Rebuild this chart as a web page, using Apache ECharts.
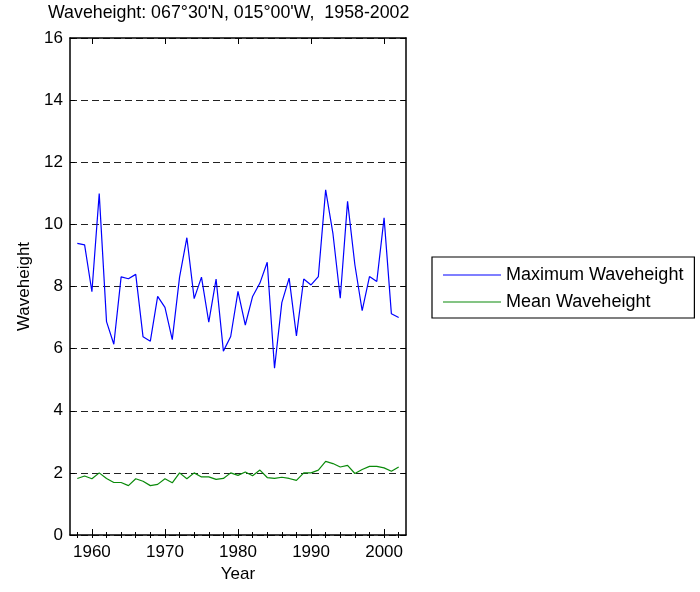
<!DOCTYPE html>
<html>
<head>
<meta charset="utf-8">
<script src="https://cdn.jsdelivr.net/npm/echarts@6/dist/echarts.min.js"></script>
<style>
  html, body { margin: 0; padding: 0; background: #fff; }
  #chart { width: 700px; height: 592px; }
</style>
</head>
<body>
<div id="chart"></div>
<script>
// Annual wave heights at 067°30'N, 015°00'W
const years = [1958, 1959, 1960, 1961, 1962, 1963, 1964, 1965, 1966, 1967,
  1968, 1969, 1970, 1971, 1972, 1973, 1974, 1975, 1976, 1977,
  1978, 1979, 1980, 1981, 1982, 1983, 1984, 1985, 1986, 1987,
  1988, 1989, 1990, 1991, 1992, 1993, 1994, 1995, 1996, 1997,
  1998, 1999, 2000, 2001, 2002];

const maxWave = [9.39, 9.34, 7.83, 10.99, 6.87, 6.14, 8.31, 8.25, 8.39, 6.38,
  6.24, 7.68, 7.33, 6.29, 8.30, 9.57, 7.61, 8.30, 6.85, 8.24,
  5.92, 6.39, 7.84, 6.76, 7.68, 8.11, 8.78, 5.37, 7.48, 8.27,
  6.41, 8.24, 8.05, 8.32, 11.11, 9.70, 7.62, 10.74, 8.70, 7.22,
  8.32, 8.16, 10.21, 7.12, 7.00];

const meanWave = [1.82, 1.90, 1.81, 2.00, 1.82, 1.69, 1.69, 1.59, 1.81, 1.73,
  1.59, 1.63, 1.81, 1.68, 2.00, 1.81, 2.00, 1.87, 1.87, 1.79,
  1.82, 2.00, 1.92, 2.03, 1.91, 2.09, 1.85, 1.82, 1.86, 1.82,
  1.76, 2.00, 2.00, 2.09, 2.37, 2.30, 2.19, 2.24, 1.98, 2.11,
  2.21, 2.21, 2.16, 2.05, 2.19];

const yearLabels = [1960, 1970, 1980, 1990, 2000];
const yearMinorTicks = [1958, 1960, 1962, 1964, 1966, 1968, 1970, 1972, 1974, 1976,
  1978, 1980, 1982, 1984, 1986, 1988, 1990, 1992, 1994, 1996, 1998, 2000, 2002];
const heightTicks = [0, 2, 4, 6, 8, 10, 12, 14, 16];

const FONT = '"Liberation Sans", Arial, sans-serif';
const FS = 17;

const pair = (xs, ys) => xs.map((x, i) => [x, ys[i]]);

const frameLine = { show: true, onZero: false, lineStyle: { color: '#000', width: 1.5 } };

function yearAxis(position, showLabels, ticks, len, withLine) {
  return {
    type: 'value',
    position: position,
    min: 1957,
    max: 2003,
    axisLine: withLine ? frameLine : { show: false },
    axisTick: { show: true, inside: true, length: len, customValues: ticks,
      lineStyle: { color: '#000', width: 1 } },
    axisLabel: showLabels
      ? { show: true, customValues: yearLabels, color: '#000', fontFamily: FONT, fontSize: FS,
          margin: 9, formatter: (v) => String(v) }
      : { show: false },
    splitLine: { show: false }
  };
}

const chart = echarts.init(document.getElementById('chart'), null, { renderer: 'canvas' });

chart.setOption({
  animation: false,
  backgroundColor: '#fff',
  title: {
    text: 'Waveheight: 067°30\'N, 015°00\'W,  1958-2002',
    left: 48,
    top: 4,
    padding: 0,
    textStyle: { fontFamily: FONT, fontSize: 17.8, fontWeight: 'normal', color: '#000' }
  },
  legend: {
    orient: 'vertical',
    left: 432,
    top: 257,
    padding: [8, 11, 6, 11],
    itemGap: 7,
    itemWidth: 58,
    itemHeight: 1,
    icon: 'rect',
    borderColor: '#000',
    borderWidth: 1.2,
    textStyle: { fontFamily: FONT, fontSize: 18, color: '#000', lineHeight: 20 },
    data: ['Maximum Waveheight', 'Mean Waveheight']
  },
  grid: { left: 70, right: 294, top: 38, bottom: 57 },
  xAxis: [
    Object.assign(yearAxis('bottom', true, yearLabels, 6, true), {
      name: 'Year', nameLocation: 'middle', nameGap: 31,
      nameTextStyle: { fontFamily: FONT, fontSize: FS, color: '#000' }
    }),
    yearAxis('bottom', false, yearMinorTicks, 3, false),
    yearAxis('top', false, yearLabels, 6, true),
    yearAxis('top', false, yearMinorTicks, 3, false)
  ],
  yAxis: [
    {
      type: 'value', position: 'left', min: 0, max: 16, interval: 2,
      name: 'Waveheight', nameLocation: 'middle', nameGap: 37, nameRotate: 90,
      nameTextStyle: { fontFamily: FONT, fontSize: FS, color: '#000' },
      axisLine: frameLine,
      axisTick: { show: true, inside: true, length: 5, lineStyle: { color: '#000' } },
      axisLabel: { color: '#000', fontFamily: FONT, fontSize: FS, margin: 7, customValues: heightTicks },
      splitLine: { show: true, lineStyle: { color: '#222', width: 1, type: [7, 4] } }
    },
    {
      type: 'value', position: 'right', min: 0, max: 16, interval: 2,
      axisLine: frameLine,
      axisTick: { show: true, inside: true, length: 5, lineStyle: { color: '#000' } },
      axisLabel: { show: false },
      splitLine: { show: false }
    }
  ],
  series: [
    {
      name: 'Maximum Waveheight',
      type: 'line',
      xAxisIndex: 0, yAxisIndex: 0,
      data: pair(years, maxWave),
      showSymbol: false,
      color: '#0000ff',
      lineStyle: { color: '#0000ff', width: 1.2 },
      z: 3
    },
    {
      name: 'Mean Waveheight',
      type: 'line',
      xAxisIndex: 0, yAxisIndex: 0,
      data: pair(years, meanWave),
      showSymbol: false,
      color: '#0a8a0a',
      lineStyle: { color: '#0a8a0a', width: 1.2 },
      z: 3
    }
  ]
});
</script>
</body>
</html>
